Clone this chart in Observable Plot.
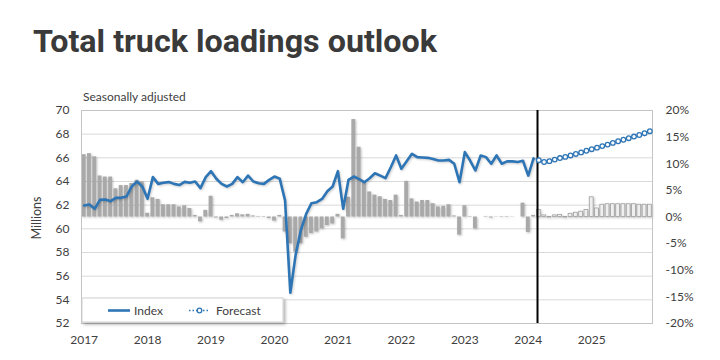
<!DOCTYPE html>
<html>
<head>
<meta charset="utf-8">
<script src="https://cdn.jsdelivr.net/npm/d3@7"></script>
<script src="https://cdn.jsdelivr.net/npm/@observablehq/plot@0.6"></script>
<style>
  body { margin: 0; background: #fff; }
  #wrap { position: relative; width: 720px; height: 360px; overflow: hidden; }
  #overlay { position: absolute; left: 0; top: 0; pointer-events: none; }
  #chart svg { display: block; }
</style>
</head>
<body>
<div id="wrap">
  <div id="chart"></div>
  <svg id="overlay" width="720" height="360"></svg>
</div>
<script>
// ---- Data (monthly, Jan 2017 .. Dec 2025) ----
const yearLabels = ["2017","2018","2019","2020","2021","2022","2023","2024","2025"];

// Index, millions (Jan 2017 .. Feb 2024)
const indexValues = [
  61.97, 62.06, 61.70, 62.45, 62.48, 62.34, 62.62, 62.62, 62.73, 63.58, 64.00, 63.58,
  62.54, 64.37, 63.80, 63.90, 63.95, 63.80, 63.70, 63.97, 63.90, 64.00, 63.44, 64.37,
  64.87, 64.23, 63.80, 63.58, 63.80, 64.37, 63.94, 64.50, 64.00, 63.85, 63.80, 64.14,
  64.42, 64.23, 62.40, 54.60, 57.80, 59.90, 61.27, 62.17, 62.25, 62.53, 63.18, 63.58,
  64.87, 61.69, 64.14, 64.42, 64.20, 63.94, 64.28, 64.70, 64.50, 64.28, 65.20, 66.20,
  65.07, 65.72, 66.34, 66.06, 66.03, 66.00, 65.90, 65.77, 65.77, 65.83, 65.50, 63.94,
  66.48, 65.77, 64.93, 66.20, 66.06, 65.50, 66.20, 65.50, 65.70, 65.70, 65.65, 65.75,
  64.50, 65.95
];

// Forecast, millions (Mar 2024 .. Dec 2025)
const forecastValues = [
  65.80, 65.65, 65.72, 65.85, 65.98, 66.08, 66.20, 66.33, 66.46, 66.60,
  66.73, 66.86, 66.99, 67.12, 67.26, 67.40, 67.53, 67.66, 67.80, 67.93, 68.08, 68.25
];

// Year-over-year change, percent (right axis)
const growthPct = [
  11.7, 11.9, 11.3, 7.7, 7.5, 7.5, 5.3, 5.9, 5.9, 6.3, 6.9, 6.6,
  0.7, 3.6, 3.3, 2.3, 2.3, 2.3, 1.9, 2.1, 1.6, 0.3, -0.9, 1.25,
  3.9, -0.2, -0.6, -0.3, 0.3, 0.6, 0.4, 0.5, 0.2, 0.1, -0.1, -0.3,
  -0.75, 0.3, -2.8, -5.0, -6.6, -5.0, -3.8, -3.1, -2.8, -2.2, -1.6, -1.3,
  0.5, -4.1, 3.7, 18.3, 13.1, 6.5, 4.7, 4.1, 3.8, 3.3, 3.1, 4.1,
  0.3, 6.7, 3.4, 2.8, 3.1, 3.1, 2.5, 1.9, 2.0, 2.3, 0.2, -3.4,
  2.1, 0.1, -2.2, 0.0, 0.1, -0.2, 0.05, -0.1, -0.1, 0.05, 0.0, 2.6,
  -2.9, 0.3, 1.3, 0.3, -0.1, 0.3, 0.4, -0.1, 0.6, 0.8, 1.0, 1.3,
  3.7, 1.6, 2.3, 2.4, 2.4, 2.4, 2.4, 2.4, 2.4, 2.3, 2.3, 2.3
];

const leftTicks = [52, 54, 56, 58, 60, 62, 64, 66, 68, 70];
const rightTicksPct = [-20, -15, -10, -5, 0, 5, 10, 15, 20];
const forecastStart = 85.75;   // vertical divider between actual and forecast

// right axis: 0% sits at 61 on the left axis, +/-20% at 70 / 52
const BASE = 61, PER_PCT = 0.45;

const idx = indexValues.map((v, i) => ({m: i, v}));
const fc = forecastValues.map((v, i) => ({m: indexValues.length + i, v}));
const fcLine = [idx[idx.length - 1], ...fc];
const bars = growthPct.map((p, i) => ({m: i, p, forecast: i >= indexValues.length}));

const blue = "#2e75b6";
const halfBar = 0.36;

const chart = Plot.plot({
  width: 720,
  height: 360,
  marginTop: 110,
  marginBottom: 37,
  marginLeft: 81,
  marginRight: 68,
  style: {fontFamily: "Lato, sans-serif", fontSize: "12px", color: "#404040", background: "transparent"},
  x: {domain: [-0.5, 107.5]},
  y: {domain: [52, 70]},
  marks: [
    Plot.gridY(leftTicks, {stroke: "#d9d9d9", strokeOpacity: 1}),
    Plot.rect(bars.filter(d => !d.forecast), {
      x1: d => d.m - halfBar, x2: d => d.m + halfBar,
      y1: d => BASE, y2: d => BASE + d.p * PER_PCT,
      fill: "#a9a9a9"
    }),
    Plot.rect(bars.filter(d => d.forecast), {
      x1: d => d.m - halfBar, x2: d => d.m + halfBar,
      y1: d => BASE, y2: d => BASE + d.p * PER_PCT,
      fill: "#efefef", stroke: "#a0a0a0", strokeWidth: 0.8
    }),
    Plot.frame({stroke: "#c4c4c4"}),
    Plot.ruleX([forecastStart], {stroke: "#000", strokeWidth: 2}),
    Plot.line(idx, {x: "m", y: "v", stroke: blue, strokeWidth: 2.6}),
    Plot.line(fcLine, {x: "m", y: "v", stroke: blue, strokeWidth: 1.4, strokeDasharray: "1.5,2"}),
    Plot.dot(fc, {x: "m", y: "v", r: 2.3, fill: "white", stroke: blue, strokeWidth: 1.3}),
    Plot.axisY(leftTicks, {anchor: "left", tickSize: 0, tickPadding: 12, label: null}),
    Plot.axisY(rightTicksPct.map(p => BASE + p * PER_PCT), {
      anchor: "right", tickSize: 0, tickPadding: 13, label: null,
      tickFormat: d => `${Math.round((d - BASE) / PER_PCT)}%`
    }),
    Plot.axisX(yearLabels.map((_, i) => i * 12), {
      anchor: "bottom", tickSize: 0, tickPadding: 12, label: null,
      tickFormat: d => yearLabels[d / 12]
    })
  ]
});
document.getElementById("chart").appendChild(chart);

// soft Excel-like shadows
d3.select(chart).selectAll('g[aria-label="rect"]').style("filter", "drop-shadow(1px 1px 0.8px rgba(0,0,0,0.25))");
d3.select(chart).selectAll('g[aria-label="line"]').style("filter", "drop-shadow(1px 1.5px 1px rgba(0,0,0,0.2))");

// ---- Title, subtitle, axis title, legend ----
const ov = d3.select("#overlay");
ov.append("text").attr("x", 33).attr("y", 52)
  .attr("textLength", 404).attr("lengthAdjust", "spacingAndGlyphs")
  .style("font", "700 32px Roboto, sans-serif").style("fill", "#3a3a3a")
  .text("Total truck loadings outlook");
ov.append("text").attr("x", 83).attr("y", 101)
  .style("font", "12px Lato, sans-serif").style("fill", "#404040")
  .text("Seasonally adjusted");
ov.append("text").attr("transform", "translate(41,218) rotate(-90)")
  .attr("text-anchor", "middle")
  .style("font", "12.5px Lato, sans-serif").style("fill", "#404040")
  .text("Millions");

const defs = ov.append("defs");
const f = defs.append("filter").attr("id", "sh").attr("x", "-10%").attr("y", "-20%").attr("width", "130%").attr("height", "160%");
f.append("feDropShadow").attr("dx", 2).attr("dy", 2).attr("stdDeviation", 1.5).attr("flood-color", "#000").attr("flood-opacity", 0.3);

const lg = ov.append("g");
lg.append("rect").attr("x", 82).attr("y", 298).attr("width", 201).attr("height", 24)
  .attr("fill", "#fff").attr("stroke", "#d0d0d0").attr("filter", "url(#sh)");
lg.append("line").attr("x1", 108).attr("x2", 130).attr("y1", 310.5).attr("y2", 310.5)
  .attr("stroke", blue).attr("stroke-width", 2.6);
lg.append("text").attr("x", 134).attr("y", 314.5)
  .style("font", "12px Lato, sans-serif").style("fill", "#404040").text("Index");
lg.append("line").attr("x1", 189).attr("x2", 210).attr("y1", 310.5).attr("y2", 310.5)
  .attr("stroke", blue).attr("stroke-width", 1.4).attr("stroke-dasharray", "1.5,2");
lg.append("circle").attr("cx", 199.5).attr("cy", 310.5).attr("r", 2.3)
  .attr("fill", "#fff").attr("stroke", blue).attr("stroke-width", 1.3);
lg.append("text").attr("x", 216).attr("y", 314.5)
  .style("font", "12px Lato, sans-serif").style("fill", "#404040").text("Forecast");
</script>
</body>
</html>
